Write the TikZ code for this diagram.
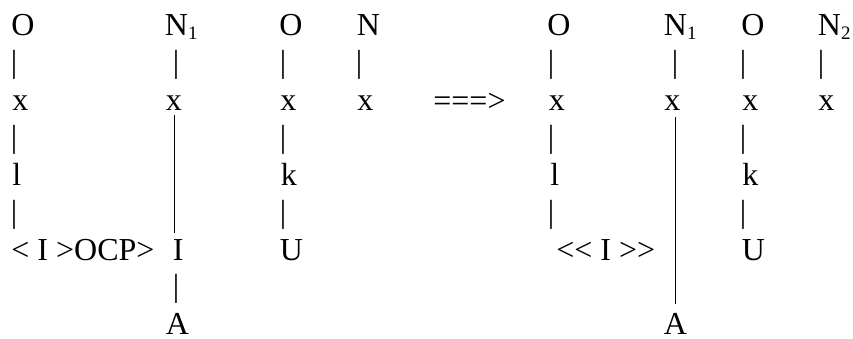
\documentclass[tikz,border=0pt]{standalone}
\usepackage{fontspec}
\usepackage{tikz}
\newfontfamily\tms{Liberation Serif}
\newcommand{\subs}[1]{\raisebox{-2pt}{\fontsize{9.5}{9.5}\selectfont #1}}
\tikzset{
  seg/.style={anchor=base west,inner sep=0pt,font=\tms\fontsize{16}{19}\selectfont},
  pipe/.style={seg,anchor=center},
  assoc/.style={line width=0.5pt}
}
\begin{document}
\begin{tikzpicture}[x=0.5pt,y=-0.5pt]
\useasboundingbox (0,0) rectangle (853,338);
% left: before
\node[seg] (oL1) at (11,35) {O};
\node[pipe] (pL1a) at (14,65) {|};
\node[seg] (xL1) at (12,110) {x};
\node[pipe] (pL1b) at (14,140) {|};
\node[seg] (lL1) at (12,185) {l};
\node[pipe] (pL1c) at (14,215) {|};
\node[seg] (ocpL) at (11,260) {< I >OCP>};
\node[seg] (nL2) at (164.5,35) {N\subs{1}};
\node[pipe] (pL2a) at (176,65) {|};
\node[seg] (xL2) at (165.5,110) {x};
\node[seg] (iL2) at (172.5,260) {I};
\node[pipe] (pL2b) at (176,289) {|};
\node[seg] (aL2) at (165.5,334.5) {A};
\node[seg] (oL3) at (279,35) {O};
\node[pipe] (pL3a) at (283,65) {|};
\node[seg] (xL3) at (280,110) {x};
\node[pipe] (pL3b) at (283,140) {|};
\node[seg] (kL3) at (280.5,185) {k};
\node[pipe] (pL3c) at (283,215) {|};
\node[seg] (uL3) at (279.5,260) {U};
\node[seg] (nL4) at (356.5,35) {N};
\node[pipe] (pL4a) at (359,65) {|};
\node[seg] (xL4) at (357,110) {x};
\draw[assoc,shorten <=2.5pt,shorten >=3pt] ([xshift=0.5pt]xL2.south) -- ([xshift=0.5pt]xL2.south |- iL2.north);
% rewrite arrow
\node[seg] (rw) at (433,111) {===>};
% right: after
\node[seg] (oR1) at (547,35) {O};
\node[pipe] (pR1a) at (551,65) {|};
\node[seg] (xR1) at (548.5,110) {x};
\node[pipe] (pR1b) at (551,140) {|};
\node[seg] (lR1) at (550,185) {l};
\node[pipe] (pR1c) at (551,215) {|};
\node[seg] (iiR) at (556,260) {<< I >>};
\node[seg] (nR2) at (663.5,35) {N\subs{1}};
\node[pipe] (pR2a) at (675,65) {|};
\node[seg] (xR2) at (664,110) {x};
\node[seg] (aR2) at (663.5,334.5) {A};
\node[seg] (oR3) at (741,35) {O};
\node[pipe] (pR3a) at (743,65) {|};
\node[seg] (xR3) at (742,110) {x};
\node[pipe] (pR3b) at (743,140) {|};
\node[seg] (kR3) at (742,185) {k};
\node[pipe] (pR3c) at (743,215) {|};
\node[seg] (uR3) at (741.5,260) {U};
\node[seg] (nR4) at (817.5,35) {N\subs{2}};
\node[pipe] (pR4a) at (821,65) {|};
\node[seg] (xR4) at (818,110) {x};
\draw[assoc,shorten <=3.5pt,shorten >=4.5pt] ([xshift=1.75pt]xR2.south) -- ([xshift=1.75pt]xR2.south |- aR2.north);
\end{tikzpicture}
\end{document}
